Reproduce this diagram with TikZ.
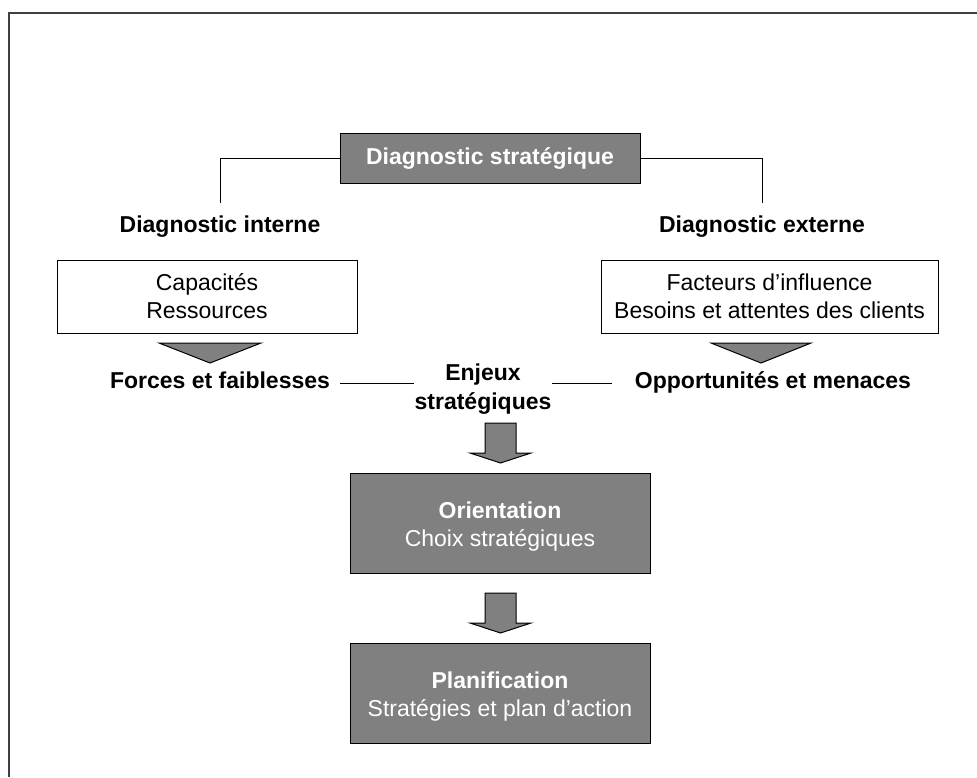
\documentclass[tikz,border=0pt]{standalone}
\usepackage{fontspec}
\setmainfont{Liberation Sans}
\definecolor{boxgray}{RGB}{128,128,128}
\definecolor{framegray}{RGB}{64,64,64}
\begin{document}
\begin{tikzpicture}[x=1pt,y=-1pt,
  every node/.style={font=\fontsize{23}{28}\selectfont},
  graybox/.style={draw=black, line width=1pt, fill=boxgray, text=white, align=center, inner sep=0pt},
  graytext/.style={text=white, align=center, inner sep=0pt},
  whitebox/.style={draw=black, line width=1pt, fill=white, align=center, inner sep=0pt},
  lbl/.style={font=\fontsize{23}{29}\selectfont\bfseries, align=center, inner sep=0pt},
  conn/.style={line width=1pt},
  shapefill/.style={draw=black, line width=1pt, fill=boxgray, line join=miter}]
\useasboundingbox (0,0) rectangle (977,777);
\draw[line width=1.5pt, draw=framegray] (9,777) -- (9,13) -- (977,13);

\node[graybox, minimum width=300, minimum height=50, font=\fontsize{23}{28}\selectfont\bfseries] (diag) at (490,158) {Diagnostic stratégique};

\node[lbl, anchor=base] (int) at (220,232) {Diagnostic interne};
\node[lbl, anchor=base] (ext) at (762,232) {Diagnostic externe};
\coordinate (intTop) at (220,203);
\coordinate (extTop) at (762,203);
\draw[conn] (diag.west) -| (intTop);
\draw[conn] (diag.east) -| (extTop);

\node[whitebox, minimum width=300, minimum height=73] (cap) at (207,296.5) {Capacités\\Ressources};
\node[whitebox, minimum width=337, minimum height=73] (fac) at (769.5,296.5) {Facteurs d’influence\\Besoins et attentes des clients};

\draw[shapefill] (159,343) -- (261,343) -- (210,363) -- cycle;
\draw[shapefill] (711,343) -- (811,343) -- (761,363) -- cycle;

\node[lbl, anchor=base] (forces) at (220,388) {Forces et faiblesses};
\node[lbl, anchor=base] (opp) at (773,388) {Opportunités et menaces};
\node[lbl] (enjeux) at (483,389) {Enjeux\\stratégiques};

\coordinate (fl) at (340,383);
\coordinate (ol) at (612,383);
\draw[conn] (fl) -- (fl -| enjeux.west);
\draw[conn] (ol -| enjeux.east) -- (ol);

\draw[shapefill] (485,423) -- (516,423) -- (516,453) -- (531,453) -- (500.5,463) -- (470,453) -- (485,453) -- cycle;

\node[graybox, minimum width=300, minimum height=100] (ori) at (500,523) {};
\node[graytext, yshift=-4pt] (oritext) at (ori.center) {\textbf{Orientation}\\Choix stratégiques};

\draw[shapefill] (485,593) -- (516,593) -- (516,623) -- (531,623) -- (500.5,633) -- (470,623) -- (485,623) -- cycle;

\node[graybox, minimum width=300, minimum height=100] (plan) at (500,693) {};
\node[graytext, yshift=-4pt] (plantext) at (plan.center) {\textbf{Planification}\\Stratégies et plan d’action};
\end{tikzpicture}
\end{document}
